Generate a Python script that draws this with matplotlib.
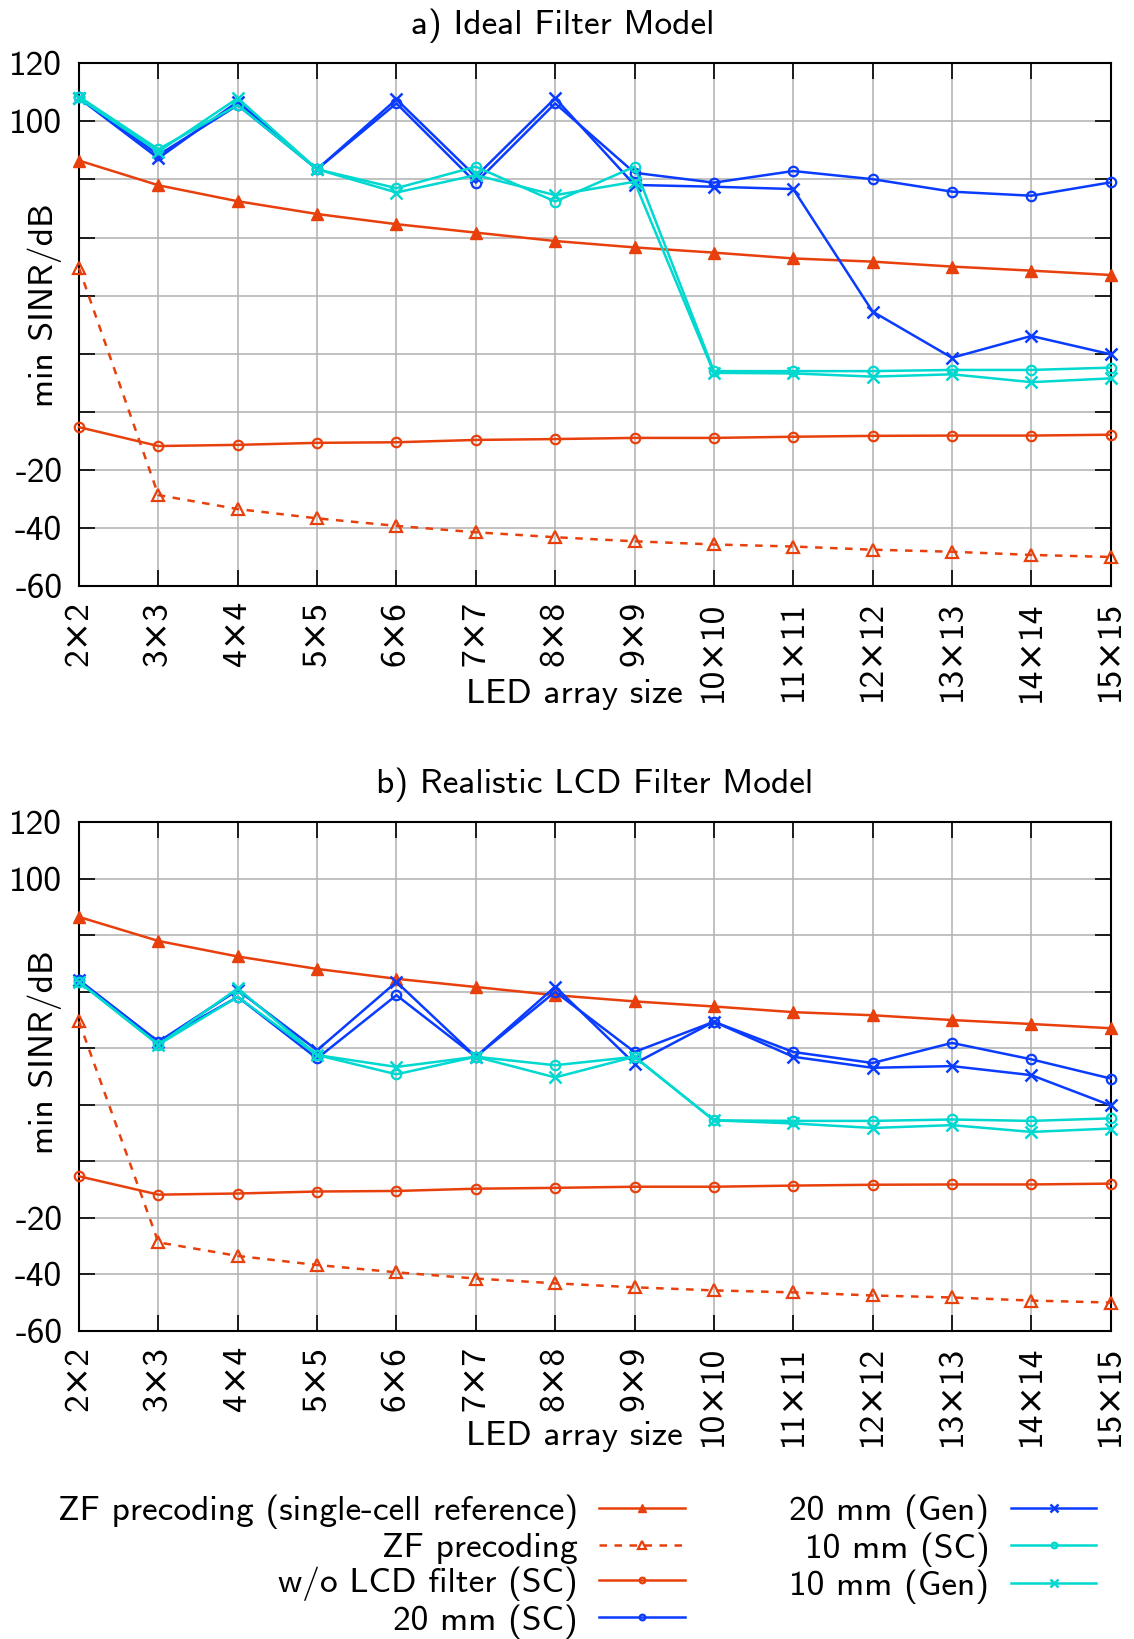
import matplotlib
matplotlib.use("Agg")
import matplotlib.pyplot as plt
import numpy as np

plt.rcParams['font.family'] = ['cmss10', 'DejaVu Sans']
plt.rcParams['axes.unicode_minus'] = False
plt.rcParams['mathtext.fontset'] = 'cm'

# LED array sizes (n x n)
sizes = [2, 3, 4, 5, 6, 7, 8, 9, 10, 11, 12, 13, 14, 15]
size_labels = [f"{n}\u00d7{n}" for n in sizes]

# Curves common to both filter models (dB)
zf_single = [86.5, 78.0, 72.5, 68.1, 64.6, 61.7, 58.8, 56.6, 54.8, 52.8, 51.7, 50.0, 48.6, 47.1]
zf_plain = [49.5, -28.7, -33.5, -36.7, -39.3, -41.5, -43.2, -44.6, -45.7, -46.4, -47.5, -48.2, -49.3, -50.0]
wo_lcd = [-5.3, -11.8, -11.4, -10.7, -10.5, -9.7, -9.4, -9.0, -9.0, -8.6, -8.3, -8.2, -8.2, -7.9]

# a) Ideal filter model
ideal_20_sc = [108.5, 88.4, 105.6, 83.5, 106.2, 78.9, 106.2, 82.3, 78.9, 82.9, 80.1, 75.8, 74.4, 79.0]
ideal_20_gen = [108.0, 87.3, 106.8, 83.5, 107.6, 81.0, 108.0, 78.1, 77.5, 76.7, 34.5, 18.6, 26.1, 19.8]
ideal_10_sc = [108.5, 90.4, 105.6, 83.5, 77.0, 84.4, 72.4, 84.4, 14.0, 14.0, 14.0, 14.4, 14.4, 15.2]
ideal_10_gen = [108.0, 89.6, 108.0, 83.5, 75.5, 81.5, 74.6, 79.2, 13.4, 13.2, 12.1, 12.9, 10.2, 11.5]

# b) Realistic LCD filter model
lcd_20_sc = [64.1, 42.3, 58.2, 36.4, 58.8, 37.0, 60.0, 38.7, 49.4, 38.7, 34.8, 41.9, 36.1, 29.3]
lcd_20_gen = [64.1, 42.3, 60.6, 39.3, 63.5, 37.0, 61.8, 34.6, 49.4, 37.0, 33.1, 33.7, 30.5, 19.8]
lcd_10_sc = [63.5, 41.3, 58.2, 37.6, 30.8, 37.0, 34.0, 37.0, 14.5, 14.3, 14.3, 14.8, 14.3, 15.2]
lcd_10_gen = [63.5, 41.3, 61.2, 37.6, 33.4, 37.0, 29.7, 37.0, 14.5, 13.4, 11.8, 12.8, 10.4, 11.6]

y_ticks = [-60, -40, -20, 0, 20, 40, 60, 80, 100, 120]
y_tick_labels = ["-60", "-40", "-20", "", "", "", "", "", "100", "120"]

ORANGE = "#e8400c"
BLUE = "#0a3cff"
CYAN = "#00d8d0"

FS = 25.5
LW = 1.8

fig = plt.figure(figsize=(11.34, 16.39), dpi=100)
W, H = 1134, 1639


def add_axes_px(left, top, right, bottom):
    return fig.add_axes([left / W, 1 - bottom / H, (right - left) / W, (bottom - top) / H])


ax_a = add_axes_px(79, 63.3, 1110.7, 586)
ax_b = add_axes_px(79, 822.3, 1110.7, 1330.8)

panels = [
    (ax_a, "a) Ideal Filter Model", 0.469, 1.072, ideal_20_sc, ideal_20_gen, ideal_10_sc, ideal_10_gen, 0.538),
    (ax_b, "b) Realistic LCD Filter Model", 0.5, 1.073, lcd_20_sc, lcd_20_gen, lcd_10_sc, lcd_10_gen, 0.548),
]

x = np.arange(len(sizes))
handles = None
for ax, title, tx, ty, s20, g20, s10, g10, yl in panels:
    common = dict(lw=LW, clip_on=False, zorder=3)
    h1, = ax.plot(x, zf_single, color=ORANGE, marker='^', ms=8.5, mfc=ORANGE, mec=ORANGE,
                  label="ZF precoding (single-cell reference)", **common)
    h2, = ax.plot(x, zf_plain, color=ORANGE, ls=(0, (3, 3)), marker='^', ms=8.5, mfc='none',
                  mec=ORANGE, mew=1.6, label="ZF precoding", **common)
    h3, = ax.plot(x, wo_lcd, color=ORANGE, marker='o', ms=6.8, mfc='none', mec=ORANGE, mew=1.6,
                  label="w/o LCD filter (SC)", **common)
    h4, = ax.plot(x, s20, color=BLUE, marker='o', ms=6.8, mfc='none', mec=BLUE, mew=1.6,
                  label="20 mm (SC)", **common)
    h5, = ax.plot(x, g20, color=BLUE, marker='x', ms=9, mew=1.8, label="20 mm (Gen)", **common)
    h6, = ax.plot(x, s10, color=CYAN, marker='o', ms=6.8, mfc='none', mec=CYAN, mew=1.6,
                  label="10 mm (SC)", **common)
    h7, = ax.plot(x, g10, color=CYAN, marker='x', ms=9, mew=1.8, label="10 mm (Gen)", **common)
    handles = [h1, h2, h3, h4, h5, h6, h7]

    ax.set_xlim(0, len(sizes) - 1)
    ax.set_ylim(-60, 120)
    ax.set_xticks(x)
    ax.set_xticklabels(size_labels, rotation=90, fontsize=FS)
    ax.set_yticks(y_ticks)
    ax.set_yticklabels(y_tick_labels, fontsize=FS)
    ax.tick_params(direction='in', top=True, right=True, length=11.5, width=1.2, pad=12)
    ax.tick_params(axis='x', pad=11)
    ax.grid(True, color='#b0b0b0', lw=1.1)
    ax.set_axisbelow(True)
    for sp in ax.spines.values():
        sp.set_linewidth(1.5)
    ax.text(tx, ty, title, transform=ax.transAxes, ha='center', va='center', fontsize=FS)
    ax.set_xlabel("LED array size", fontsize=FS)
    ax.xaxis.set_label_coords(0.480, -0.177)
    ax.set_ylabel("min SINR/dB", fontsize=FS)
    ax.yaxis.set_label_coords(-0.0165, yl)

leg = fig.legend(handles=handles, loc='upper left', bbox_to_anchor=(26 / W, 1 - 1463 / H),
                 ncol=2, markerfirst=False, frameon=False, fontsize=FS,
                 handlelength=2.42, handletextpad=0.6, columnspacing=2.95,
                 labelspacing=0.08, markerscale=0.6)

fig.savefig("out.png", dpi=100)
